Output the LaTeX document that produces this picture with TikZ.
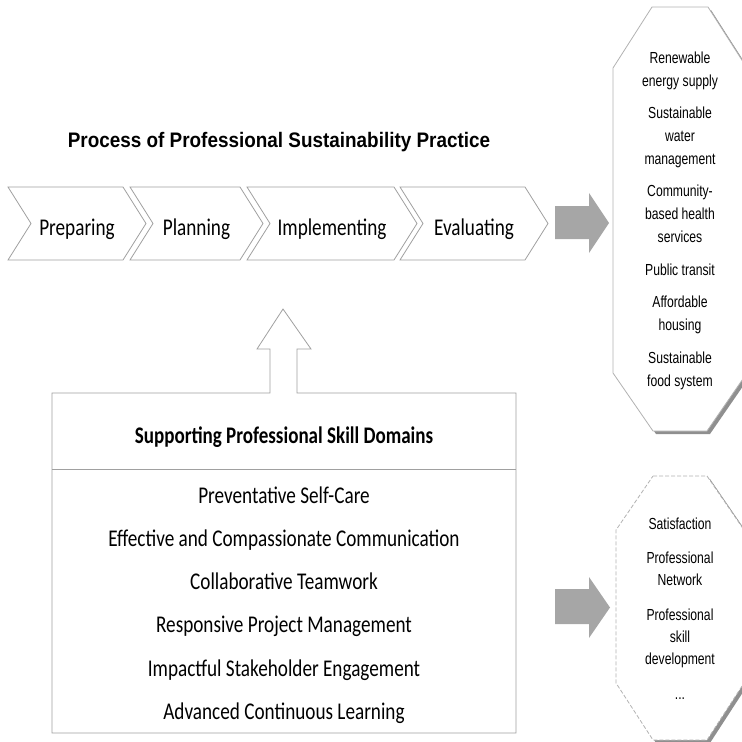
\documentclass[tikz,border=0pt]{standalone}
\usepackage{fontspec}
\setmainfont{Carlito}[FakeStretch=0.8]
\newfontfamily\arialfont{Liberation Sans}[FakeStretch=0.76]
\newfontfamily\arialhead{Liberation Sans}[FakeStretch=0.9]
\usetikzlibrary{shadows}
\definecolor{edgegray}{HTML}{A0A0A0}
\definecolor{arrowgray}{HTML}{A6A6A6}
\tikzset{
  chev/.style={draw=edgegray, fill=white, line width=0.8pt},
  chevtext/.style={anchor=base, inner sep=0pt, font=\fontsize{24}{28}\selectfont},
  bigarrow/.style={fill=arrowgray, draw=none},
  octa/.style={draw=gray!60, fill=white, line width=0.8pt,
    drop shadow={shadow xshift=3pt, shadow yshift=-3pt, opacity=0.55, fill=black!80}},
  octatext/.style={anchor=north, inner sep=0pt, align=center,
    font=\arialfont\fontsize{16}{23}\selectfont},
  skill/.style={anchor=base, inner sep=0pt, font=\fontsize{24}{28}\selectfont}
}
\begin{document}
\begin{tikzpicture}[x=1pt,y=-1pt]
    \useasboundingbox (0,0) rectangle (742,742);

    % title of the process
    \node[anchor=base, inner sep=0pt, font=\arialhead\bfseries\fontsize{21}{25}\selectfont]
        (title) at (279,147) {Process of Professional Sustainability Practice};

    % the four steps
    \foreach \l/\r/\txt/\nm in {8/146/Preparing/prep, 130/263/Planning/plan,
        247/417/Implementing/impl, 400/548/Evaluating/eval}{
        \draw[chev] (\l,187) -- (\r-23,187) -- (\r,223.5) -- (\r-23,260)
            -- (\l,260) -- (\l+23,223.5) -- cycle;
        \node[chevtext] (\nm) at ({(\l+\r)/2},235) {\txt};
    }

    % gray arrows
    \draw[bigarrow] (555,206) -- (589,206) -- (589,193) -- (609,223)
        -- (589,253) -- (589,239) -- (555,239) -- cycle;
    \draw[bigarrow] (555,589) -- (589,589) -- (589,577) -- (610,607.5)
        -- (589,638) -- (589,624) -- (555,624) -- cycle;

    % skill box with its up arrow
    \draw[chev] (270,393) -- (52,393) -- (52,733) -- (516,733) -- (516,393)
        -- (297,393) -- (297,349) -- (311,349) -- (283,309) -- (257,349)
        -- (270,349) -- cycle;
    \draw[edgegray, line width=0.8pt] (52,469) -- (516,469);
    \node[skill, font=\bfseries\fontsize{23.8}{28}\selectfont] (domains) at (284,443)
        {Supporting Professional Skill Domains};
    \foreach \txt [count=\i] in {Preventative Self-Care,
        Effective and Compassionate Communication, Collaborative Teamwork,
        Responsive Project Management, Impactful Stakeholder Engagement,
        Advanced Continuous Learning}{
        \node[skill] (skill\i) at (284,{503+43.3*(\i-1)}) {\txt};
    }

    % outcome octagons
    \draw[octa] (652,7) -- (708,7) -- (747,68) -- (747,373) -- (707,431)
        -- (653,431) -- (613,373) -- (613,68) -- cycle;
    \node[octatext] (goals) at (680,51.3) {Renewable\\energy supply\\[9.4pt]
        Sustainable\\water\\management\\[9.4pt]
        Community-\\based health\\services\\[9.4pt]
        Public transit\\[9.4pt]
        Affordable\\housing\\[9.4pt]
        Sustainable\\food system};

    \draw[octa, dash pattern=on 4pt off 2pt] (653,476) -- (707,476) -- (744,530)
        -- (744,683) -- (707,740) -- (653,740) -- (616,683) -- (616,530) -- cycle;
    \node[octatext, font=\arialfont\fontsize{16}{22}\selectfont] (gains) at (680,517.3)
        {Satisfaction\\[12.7pt]
        Professional\\Network\\[12.7pt]
        Professional\\skill\\development\\[12.7pt]
        ...};
\end{tikzpicture}
\end{document}
